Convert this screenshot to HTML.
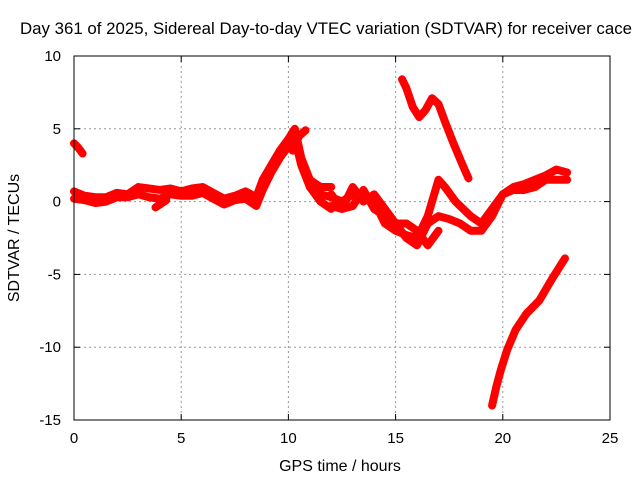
<!DOCTYPE html>
<html><head><meta charset="utf-8">
<style>
body{margin:0;background:#fff;}
svg text{font-family:"Liberation Sans",sans-serif;font-size:15px;fill:#000;}
</style></head>
<body>
<svg id="chart" width="640" height="480" xmlns="http://www.w3.org/2000/svg">
<text x="20" y="34" style="font-size:16.5px" textLength="612" lengthAdjust="spacingAndGlyphs">Day 361 of 2025, Sidereal Day-to-day VTEC variation (SDTVAR) for receiver cace</text>
<g id="grid"></g>
<g id="ticks"></g>
<g id="series"></g>
<rect x="74" y="56" width="536" height="364" fill="none" stroke="#000" stroke-width="1"/>
<text x="340" y="471" text-anchor="middle" style="font-size:16px">GPS time / hours</text>
<text transform="translate(19,238) rotate(-90)" text-anchor="middle" style="font-size:16px">SDTVAR / TECUs</text>
</svg>
<script>
const xTicks=[0,5,10,15,20,25];
const yTicks=[10,5,0,-5,-10,-15];
const sA_t=[0,0.2,0.4];
const sA_v=[4,3.7,3.3];
const sB_t=[0,0.5,1,1.5,2,2.5,3,3.5,4,4.5,5,5.5,6,6.5,7,7.5,8,8.5,8.8,9.2,9.6,10,10.3,10.6,11,11.5,12];
const sB_v=[0.7,0.4,0.3,0.3,0.6,0.5,1.0,0.9,0.8,0.9,0.7,0.9,1.0,0.6,0.2,0.4,0.7,0.3,1.5,2.5,3.5,4.3,5,3,1.5,1.0,1.0];
const sC_t=[0,0.5,1,1.5,2,2.5,3,3.5,4,4.5,5,5.5,6,6.5,7,7.5,8,8.5,8.8,9.2,9.6,10,10.3,10.6,11,11.5,12];
const sC_v=[0.2,0.1,-0.1,0,0.3,0.3,0.5,0.3,0.2,0.5,0.4,0.4,0.6,0.2,-0.2,0.1,0.2,-0.3,0.8,2,3,3.8,4.3,2.5,1,0,-0.5];
const sD_t=[3.8,4.0,4.3];
const sD_v=[-0.4,-0.2,0.1];
const sE_t=[10.2,10.5,10.8];
const sE_v=[3.5,4.5,4.9];
const sF_t=[11,11.5,12,12.5,13,13.5,14,14.5,15,15.5,16,16.5,17,17.3,17.8,18.5,19,19.5,20,20.5,21,21.5,22,22.5,23];
const sF_v=[1,0.5,0.3,0,0.5,0.3,0,-1.5,-2,-2.3,-2.5,-1,1.5,1,0,-1,-1.5,-0.5,0.5,1,1.2,1.5,1.8,2.2,2];
const sG_t=[12,12.5,13,13.5,14,14.5,15,15.5,16,16.5,17,17.5,18,18.5,19,19.5,20,20.5,21,21.5,22,22.5,23];
const sG_v=[-0.3,-0.5,-0.3,0.8,-0.5,-1,-1.5,-2.5,-3,-1.5,-1,-1.2,-1.5,-2,-2,-1,0.5,0.8,0.8,1,1.5,1.5,1.5];
const sH_t=[12,12.5,13,13.5,14,14.5,15,15.5,16,16.5,17];
const sH_v=[0.5,-0.5,1,0,0.5,-0.5,-1.5,-1.5,-2,-3,-2];
const sI_t=[15.3,15.5,15.8,16.1,16.4,16.7,17.0,17.3,17.7,18.1,18.4];
const sI_v=[8.4,7.8,6.5,5.8,6.3,7.1,6.7,5.5,4.0,2.6,1.6];
const sJ_t=[19.5,19.7,19.9,20.2,20.6,21.1,21.7,22.3,22.9];
const sJ_v=[-14,-12.7,-11.6,-10.2,-8.8,-7.7,-6.8,-5.3,-3.9];
const series=[[sA_t,sA_v],[sB_t,sB_v],[sC_t,sC_v],[sD_t,sD_v],[sE_t,sE_v],[sF_t,sF_v],[sG_t,sG_v],[sH_t,sH_v],[sI_t,sI_v],[sJ_t,sJ_v]];
const NS="http://www.w3.org/2000/svg";
const X=t=>74+t*536/25;
const Y=v=>56+(10-v)*364/25;
const grid=document.getElementById('grid'),ticks=document.getElementById('ticks'),sg=document.getElementById('series');
function mk(tag,attrs,parent){const e=document.createElementNS(NS,tag);for(const k in attrs)e.setAttribute(k,attrs[k]);parent.appendChild(e);return e;}
xTicks.forEach(t=>{
  if(t>0&&t<25){const g=mk('line',{x1:X(t),x2:X(t),y1:56,y2:420,stroke:'#999','stroke-dasharray':'2,3'},grid);
  
  }
  const l=mk('text',{x:X(t),y:443,'text-anchor':'middle'},ticks);l.textContent=t;
  
  
  mk('line',{x1:X(t),x2:X(t),y1:420,y2:414,stroke:'#000'},ticks);
  mk('line',{x1:X(t),x2:X(t),y1:56,y2:62,stroke:'#000'},ticks);
});
yTicks.forEach(v=>{
  if(v<10&&v>-15){const g=mk('line',{x1:74,x2:610,y1:Y(v),y2:Y(v),stroke:'#999','stroke-dasharray':'2,3'},grid);
  
  }
  const l=mk('text',{x:61,y:Y(v)+5,'text-anchor':'end'},ticks);l.textContent=v;
  
  
  mk('line',{x1:74,x2:80,y1:Y(v),y2:Y(v),stroke:'#000'},ticks);
  mk('line',{x1:604,x2:610,y1:Y(v),y2:Y(v),stroke:'#000'},ticks);
});
series.forEach(([ts,vs])=>{
  const pts=ts.map((t,i)=>X(t)+','+Y(vs[i])).join(' ');
  const p=mk('polyline',{points:pts,fill:'none',stroke:'#ff0000','stroke-width':8,'stroke-linejoin':'round','stroke-linecap':'round'},sg);
  
  
});
</script>
</body></html>
